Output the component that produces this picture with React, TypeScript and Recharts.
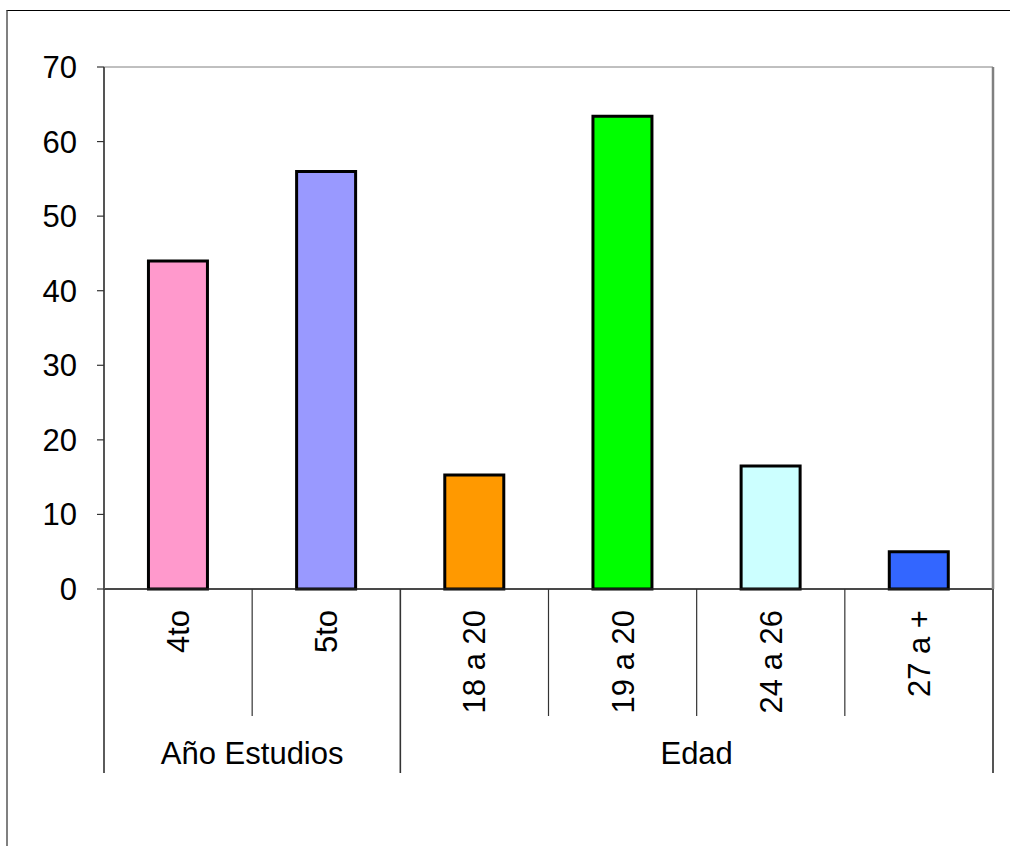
import { BarChart, Bar, XAxis, YAxis, CartesianGrid, Cell } from 'recharts';

const categories = ['4to', '5to', '18 a 20', '19 a 20', '24 a 26', '27 a +'];
const values = [44, 56, 15.3, 63.4, 16.5, 5.0];
const barColors = ['#FF99CC', '#9999FF', '#FF9900', '#00FF00', '#CCFFFF', '#3366FF'];
const groupNames = ['Año Estudios', 'Edad'];
const groupSizes = [2, 4];
const yTicks = [0, 10, 20, 30, 40, 50, 60, 70];

const data = categories.map((name, i) => ({ name, value: values[i] }));

const groupStarts: number[] = [];
groupSizes.reduce((acc, n) => {
  groupStarts.push(acc);
  return acc + n;
}, 0);

const CHART_W = 1010;
const CHART_H = 846;
const PLOT_LEFT = 104;
const PLOT_RIGHT = 993;
const FONT = '"Liberation Sans", Arial, sans-serif';

const CategoryTick = (props: any) => {
  const { x, y, payload, index } = props;
  const band = (PLOT_RIGHT - PLOT_LEFT) / categories.length;
  const left = x - band / 2;
  const right = x + band / 2;
  const gi = groupStarts.indexOf(index);
  const isStart = gi >= 0;
  const last = index === categories.length - 1;
  const lx = x + 11;
  const ly = y + 21;
  return (
    <g>
      <line x1={left} x2={left} y1={y} y2={isStart ? y + 184 : y + 127} stroke="#333" strokeWidth={isStart ? 1.6 : 1.2} />
      {last && <line x1={right} x2={right} y1={y} y2={y + 184} stroke="#555" strokeWidth={2} />}
      <text
        x={lx}
        y={ly}
        transform={`rotate(-90, ${lx}, ${ly})`}
        textAnchor="end"
        fontSize={31}
        fontFamily={FONT}
        fill="#000"
      >
        {payload.value}
      </text>
      {isStart && (
        <text
          x={left + (groupSizes[gi] * band) / 2}
          y={y + 175}
          textAnchor="middle"
          fontSize={31}
          fontFamily={FONT}
          fill="#000"
        >
          {groupNames[gi]}
        </text>
      )}
    </g>
  );
};

const App = () => {
  return (
    <div style={{ position: 'absolute', left: 0, top: 0, width: CHART_W, height: CHART_H, background: '#fff' }}>
      <div style={{ position: 'absolute', left: 6, top: 10, width: CHART_W - 6, height: CHART_H - 10, borderTop: '1.5px solid #000', borderLeft: '2px solid #808080', boxSizing: 'border-box' }} />
      <div style={{ position: 'absolute', left: 0, top: 0 }}>
        <BarChart
          width={CHART_W}
          height={CHART_H}
          data={data}
          margin={{ top: 67, right: CHART_W - PLOT_RIGHT - 1, bottom: 0, left: 0 }}
          barCategoryGap="30%"
        >
          <CartesianGrid vertical={false} stroke="#808080" strokeWidth={1} />
          <XAxis
            dataKey="name"
            height={CHART_H - 589}
            interval={0}
            tickLine={false}
            tickSize={0}
            tickMargin={0}
            axisLine={{ stroke: '#222', strokeWidth: 1.5 }}
            tick={<CategoryTick />}
          />
          <YAxis
            yAxisId="left"
            width={PLOT_LEFT}
            domain={[0, 70]}
            ticks={yTicks}
            interval={0}
            tickSize={7}
            tickMargin={20}
            axisLine={{ stroke: '#555', strokeWidth: 2 }}
            tickLine={{ stroke: '#333', strokeWidth: 1.2 }}
            tick={{ fontSize: 31, fontFamily: FONT, fill: '#000' }}
          />
          <YAxis
            yAxisId="right"
            orientation="right"
            width={1}
            domain={[0, 70]}
            ticks={yTicks}
            tick={false}
            tickLine={false}
            axisLine={{ stroke: '#808080', strokeWidth: 2.5 }}
          />
          <Bar yAxisId="left" dataKey="value" stroke="#000" strokeWidth={3} isAnimationActive={false}>
            {data.map((d, i) => (
              <Cell key={d.name} fill={barColors[i]} />
            ))}
          </Bar>
        </BarChart>
      </div>
    </div>
  );
};

export default App;
